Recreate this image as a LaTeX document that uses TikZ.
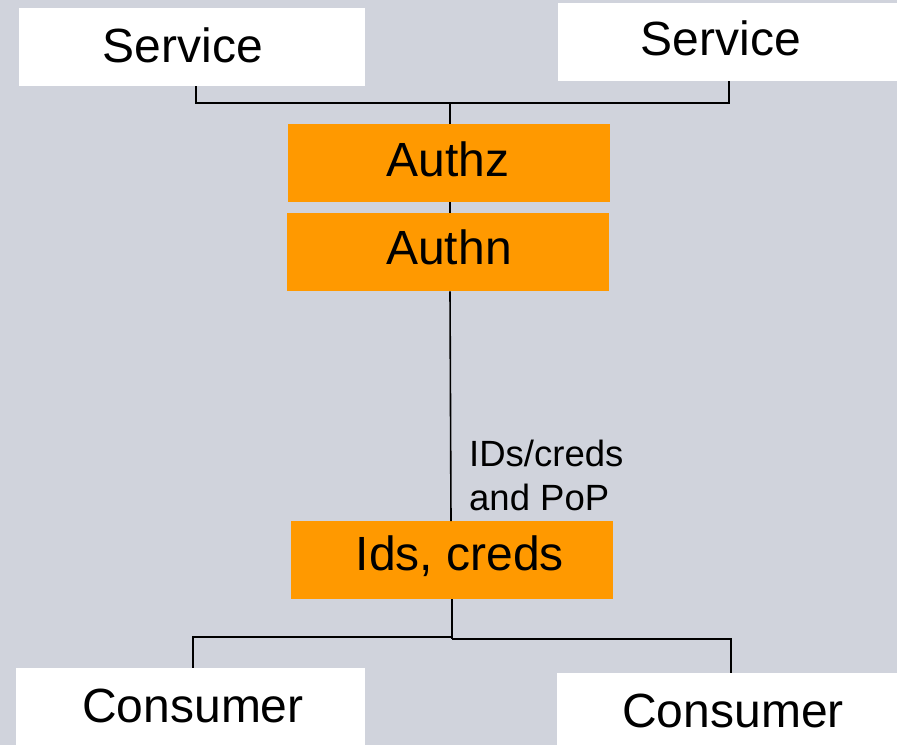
\documentclass[tikz,border=0pt]{standalone}
\usepackage{fontspec}
\setmainfont{Liberation Sans}
\definecolor{bggray}{HTML}{D0D3DC}
\definecolor{authorange}{HTML}{FF9900}
\begin{document}
\begin{tikzpicture}[x=1bp,y=-1bp,
  box/.style={inner sep=0pt, anchor=north west},
  whitebox/.style={box, fill=white},
  orangebox/.style={box, fill=authorange},
  wire/.style={draw=black, line width=1.6bp},
  bigtext/.style={font=\fontsize{48bp}{50bp}\selectfont},
  labeltext/.style={font=\fontsize{36.5bp}{44bp}\selectfont, align=left, anchor=north west, inner sep=0pt}]
  % canvas
  \fill[bggray] (0,0) rectangle (897,745);
  \useasboundingbox (0,0) rectangle (897,745);

  % boxes
  \node[whitebox, minimum width=346bp, minimum height=78bp] (svcL) at (19,8) {};
  \node[whitebox, minimum width=339bp, minimum height=78bp] (svcR) at (558,3) {};
  \node[orangebox, minimum width=322bp, minimum height=78bp] (authz) at (288,124) {};
  \node[orangebox, minimum width=322bp, minimum height=78bp] (authn) at (287,213) {};
  \node[orangebox, minimum width=322bp, minimum height=78bp] (ids) at (291,521) {};
  \node[whitebox, minimum width=349bp, minimum height=77bp] (conL) at (16,668) {};
  \node[whitebox, minimum width=340bp, minimum height=72bp] (conR) at (557,673) {};

  % box texts
  \node[bigtext] at (183,45) {Service};
  \node[bigtext] at (721,38) {Service};
  \node[bigtext] at (448,159) {Authz};
  \node[bigtext] at (449,247) {Authn};
  \node[bigtext] at (460,556) {Ids, creds};
  \node[bigtext] at (193,706) {Consumer};
  \node[bigtext] at (733,711) {Consumer};

  % junction points
  \coordinate (topJ) at (450,103);
  \coordinate (botJL) at (452,637);
  \coordinate (botJR) at (452,639);

  % connectors
  \draw[wire] (svcL.south -| 196,0) |- (topJ) -| (svcR.south -| 729,0);
  \draw[wire] (topJ) -- (authz.north -| topJ);
  \draw[wire] (authz.south -| topJ) -- (authn.north -| topJ);
  \draw[wire] (authn.south -| 450,0) -- (ids.north -| 451,0);
  \draw[wire] (ids.south -| botJL) -- (botJR);
  \draw[wire] (botJL) -| (conL.north -| 193,0);
  \draw[wire] (botJR) -| (conR.north -| 731,0);

  % connector label
  \node[labeltext] (lbl) at (469,440) {IDs/creds\\and PoP};
\end{tikzpicture}
\end{document}
